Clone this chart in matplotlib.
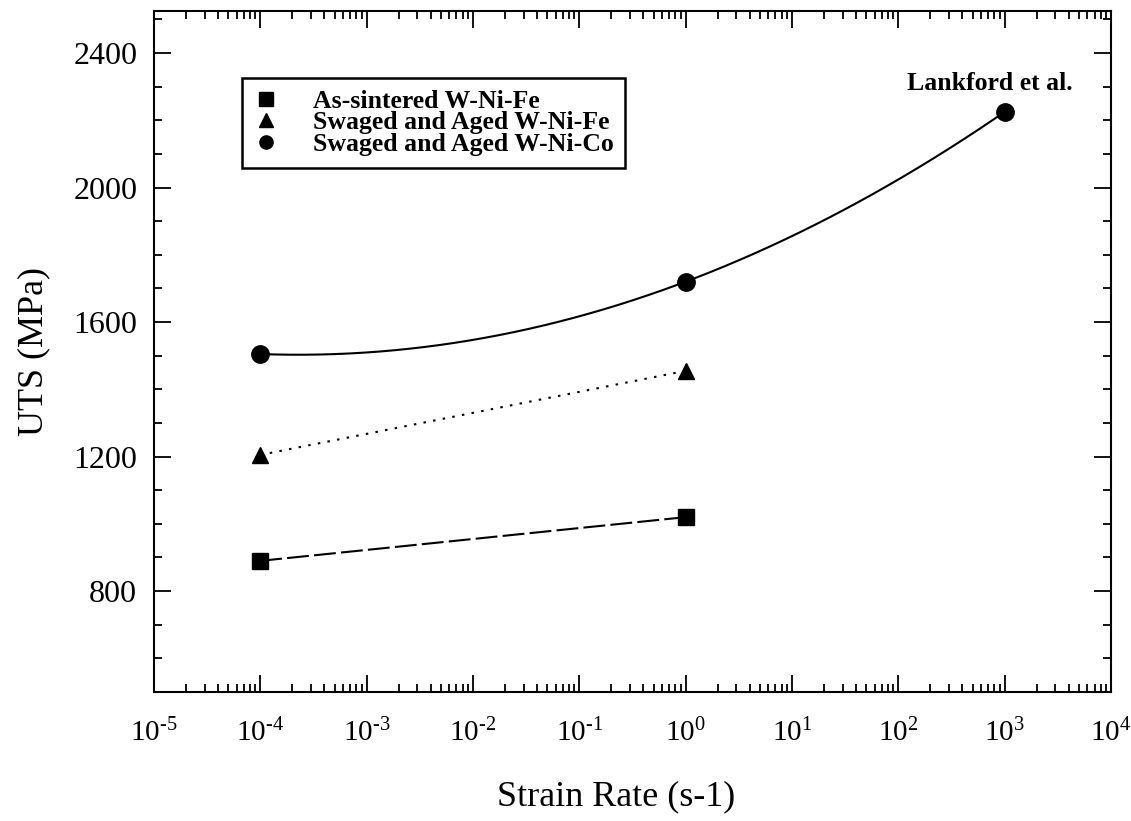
import numpy as np
import matplotlib
matplotlib.use("Agg")
import matplotlib.pyplot as plt
from matplotlib import ticker


# -----------------------------
# Data
# -----------------------------

rate_sintered = [1e-4, 1e0]
uts_sintered = [890, 1020]

rate_fe = [1e-4, 1e0]
uts_fe = [1205, 1455]

rate_co = [1e-4, 1e0, 1e3]
uts_co = [1505, 1720, 2225]

legend_labels = [
    "As-sintered W-Ni-Fe",
    "Swaged and Aged W-Ni-Fe",
    "Swaged and Aged W-Ni-Co",
]


plt.rcParams["font.family"] = "Liberation Serif"
plt.rcParams["mathtext.fontset"] = "custom"
plt.rcParams["mathtext.rm"] = "Liberation Serif"


fig = plt.figure(figsize=(11.31, 8.21), dpi=100)
ax = fig.add_axes([0.136, 0.1571, 0.8463, 0.8295])


# Lines
ax.plot(rate_sintered, uts_sintered, color="black", lw=1.5,
        dashes=(10.5, 2.5))
ax.plot(rate_fe, uts_fe, color="black", lw=1.5, ls=(0, (1.2, 3.5)))

# Smooth curve through the W-Ni-Co points (quadratic in log rate)
coef = np.polyfit(np.log10(rate_co), uts_co, 2)
lx = np.linspace(np.log10(rate_co[0]), np.log10(rate_co[-1]), 200)
ax.plot(10 ** lx, np.polyval(coef, lx), color="black", lw=1.5)

# Markers
h1, = ax.plot(rate_sintered, uts_sintered, "s", color="black", ms=11,
              ls="none")
h2, = ax.plot(rate_fe, uts_fe, "^", color="black", ms=12, ls="none")
h3, = ax.plot(rate_co, uts_co, "o", color="black", ms=12.5, ls="none")


ax.annotate("Lankford et al.", xy=(rate_co[-1], uts_co[-1]),
            xytext=(-11, 16), textcoords="offset points",
            ha="center", va="baseline", fontsize=18.5, fontweight="bold")


leg = ax.legend(
    [h1, h2, h3], legend_labels,
    loc="upper left", bbox_to_anchor=(0.092, 0.9016),
    prop={"size": 18.5, "weight": "bold"},
    frameon=True, fancybox=False, edgecolor="black", framealpha=1,
    borderpad=0.45, labelspacing=-0.05, handletextpad=1.3,
    handlelength=1.0, borderaxespad=0,
)
leg.get_frame().set_linewidth(1.8)
for h in leg.legend_handles:
    h.set_markersize(9.5)


# -----------------------------
# Axes and ticks
# -----------------------------

ax.set_xscale("log")
ax.set_xlim(1e-5, 1e4)
ax.set_ylim(500, 2525)

ax.xaxis.set_major_locator(ticker.LogLocator(base=10, numticks=20))
ax.xaxis.set_minor_locator(
    ticker.LogLocator(base=10, subs=np.arange(2, 10), numticks=20))
ax.xaxis.set_major_formatter(ticker.FuncFormatter(
    lambda v, p: r"$\mathregular{10^{\text{%d}}}$" % round(np.log10(v))))
ax.xaxis.set_minor_formatter(ticker.NullFormatter())

ax.yaxis.set_minor_locator(ticker.MultipleLocator(100))
ax.set_yticks([800, 1200, 1600, 2000, 2400])

ax.tick_params(which="both", direction="in", top=True, right=True,
               width=1.3)
ax.tick_params(which="major", length=12)
ax.tick_params(which="minor", length=6)
ax.tick_params(axis="x", labelsize=21, pad=19)
ax.tick_params(axis="y", labelsize=23, pad=12)

for s in ax.spines.values():
    s.set_linewidth(1.5)

ax.set_xlabel("Strain Rate (s-1)", fontsize=26)
ax.set_ylabel("UTS (MPa)", fontsize=26)
ax.xaxis.set_label_coords(0.483, -0.129)
ax.yaxis.set_label_coords(-0.108, 0.5)


plt.savefig("out.png", dpi=100)
plt.close()
